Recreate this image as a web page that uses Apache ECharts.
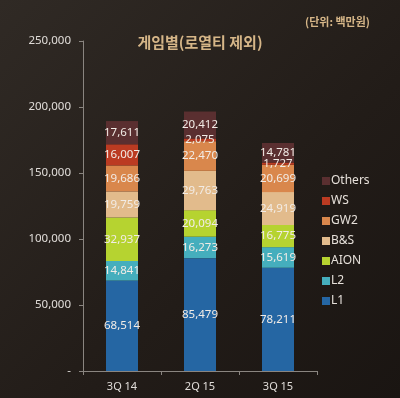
<!DOCTYPE html>
<html>
<head>
<meta charset="utf-8">
<script src="https://cdn.jsdelivr.net/npm/echarts@6/dist/echarts.min.js"></script>
<style>
  html, body { margin: 0; padding: 0; }
  #chart { width: 400px; height: 398px; }
</style>
</head>
<body>
<div id="chart"></div>
<script>
// 분기
var quarters = ['3Q 14', '2Q 15', '3Q 15'];
// 게임별 매출 (백만원)
var L1     = [68514, 85479, 78211];
var L2     = [14841, 16273, 15619];
var AION   = [32937, 20094, 16775];
var BnS    = [19759, 29763, 24919];
var GW2    = [19686, 22470, 20699];
var WS     = [16007, 2075, 1727];
var Others = [17611, 20412, 14781];

var seriesNames = ['L1', 'L2', 'AION', 'B&S', 'GW2', 'WS', 'Others'];
var seriesData = [L1, L2, AION, BnS, GW2, WS, Others];
var colors = ['#2566a3', '#45aebd', '#b6d330', '#e2bb8c', '#d9874c', '#bb3b22', '#5a2f30'];

var chart = echarts.init(document.getElementById('chart'));

var series = seriesNames.map(function (name, i) {
    return {
        name: name,
        type: 'bar',
        stack: 'total',
        barWidth: 32,
        data: seriesData[i],
        itemStyle: { color: colors[i] },
        label: {
            show: true,
            position: 'inside',
            color: '#f2ece6',
            fontSize: 11.5,
            fontFamily: 'Noto Sans',
            formatter: function (p) {
                return p.value.toLocaleString('en-US');
            }
        }
    };
});

chart.setOption({
    backgroundColor: {
        type: 'linear', x: 0, y: 0, x2: 1, y2: 1,
        colorStops: [
            { offset: 0, color: '#302a25' },
            { offset: 0.6, color: '#221c18' },
            { offset: 1, color: '#1a1512' }
        ]
    },
    animation: false,
    color: colors,
    title: [
        {
            text: '게임별(로열티 제외)',
            left: 'center',
            top: 30,
            textStyle: {
                color: '#d6b688',
                fontSize: 15,
                fontWeight: 'bold',
                fontFamily: 'Noto Sans CJK KR'
            }
        },
        {
            text: '(단위: 백만원)',
            left: 300,
            top: 11,
            textStyle: {
                color: '#d6b688',
                fontSize: 11,
                fontWeight: 'bold',
                fontFamily: 'Noto Sans CJK KR'
            }
        }
    ],
    legend: {
        orient: 'vertical',
        left: 317,
        top: 170,
        itemWidth: 8,
        itemHeight: 8,
        itemGap: 8,
        icon: 'rect',
        data: seriesNames.slice().reverse(),
        textStyle: {
            color: '#e6e0da',
            fontSize: 12,
            fontFamily: 'Noto Sans',
            padding: [0, 0, 0, -4]
        }
    },
    grid: {
        left: 83,
        right: 83,
        top: 41,
        bottom: 27
    },
    xAxis: {
        type: 'category',
        data: quarters,
        axisLine: { lineStyle: { color: '#8a8580' } },
        axisTick: { show: true, length: 4, lineStyle: { color: '#8a8580' } },
        axisLabel: {
            color: '#e0dcd8',
            fontSize: 11,
            fontFamily: 'Noto Sans',
            margin: 10
        }
    },
    yAxis: {
        type: 'value',
        min: 0,
        max: 250000,
        interval: 50000,
        splitLine: { show: false },
        axisLine: { show: true, lineStyle: { color: '#8a8580' } },
        axisTick: { show: true, length: 4, lineStyle: { color: '#8a8580' } },
        axisLabel: {
            color: '#e0dcd8',
            fontSize: 11.5,
            fontFamily: 'Noto Sans',
            margin: 12,
            formatter: function (v) {
                return v === 0 ? '-' : v.toLocaleString('en-US');
            }
        }
    },
    series: series
});
</script>
</body>
</html>
